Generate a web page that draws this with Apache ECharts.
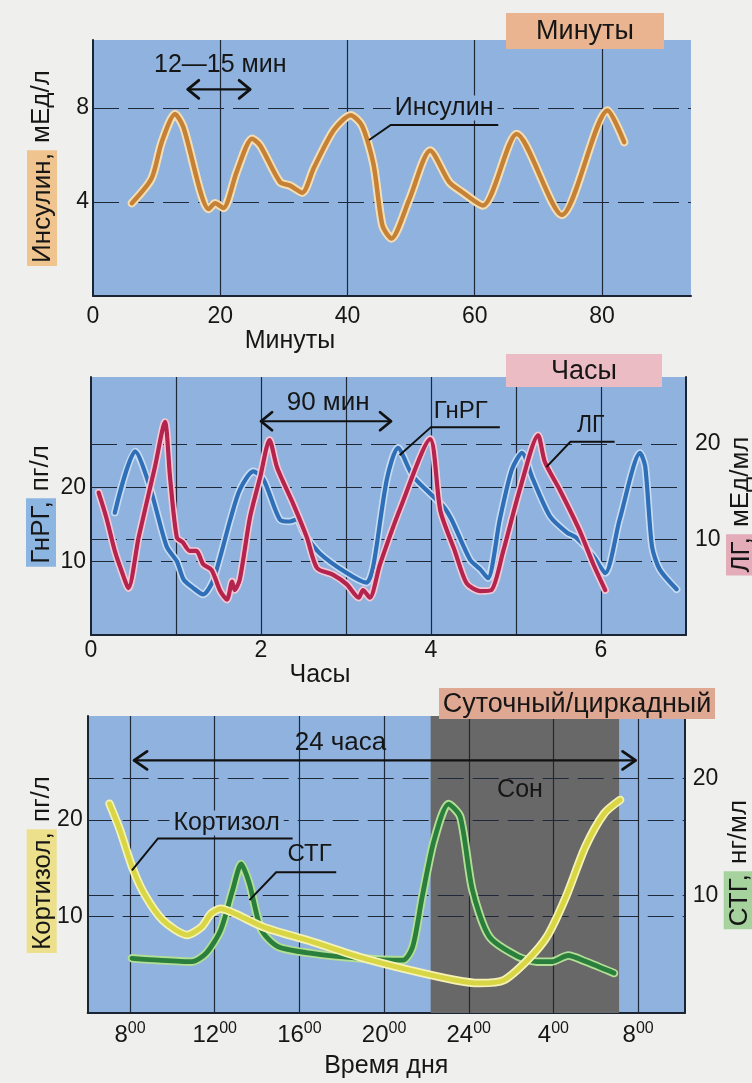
<!DOCTYPE html>
<html><head><meta charset="utf-8">
<script src="https://cdn.jsdelivr.net/npm/echarts@6/dist/echarts.min.js"></script>
<style>html,body{margin:0;padding:0;background:#efefed}#c{width:752px;height:1083px}</style>
</head><body><div id="c"></div>
<script>
// ---------- data ----------
const insulinMin = [6.1,9.2,10.8,12.9,14.2,18.2,19.2,20.5,22.6,25.0,26.3,29.4,31.0,32.9,34.7,37.8,40.5,42.3,44.1,45.5,46.9,49.7,53.0,56.0,57.9,61.3,66.6,73.7,80.9,83.5];
const insulinVal = [3.95,5.0,6.55,7.75,7.2,3.7,3.95,3.75,5.3,6.7,6.4,4.85,4.7,4.4,5.45,7.05,7.7,7.25,5.6,3.0,2.45,4.1,6.2,4.85,4.45,3.85,6.9,3.45,7.9,6.55];

const gnrhHour = [0.28,0.52,0.69,0.89,1.01,1.09,1.2,1.32,1.44,1.64,1.75,1.91,2.03,2.22,2.34,2.42,2.5,2.69,3.01,3.24,3.32,3.48,3.61,3.79,4.14,4.24,4.46,4.58,4.67,4.81,4.95,5.07,5.2,5.4,5.6,5.71,5.91,6.05,6.22,6.46,6.52,6.6,6.69,6.89];
const gnrhVal  = [16.6,24.9,20.2,12.0,10.0,7.5,6.4,5.5,7.5,15.7,19.7,22.2,21.1,15.7,15.4,15.7,13.9,11.1,8.4,7.1,9.3,21.1,25.4,21.5,17.5,15.7,10.2,8.9,7.7,15.7,22.4,24.7,21.1,16.1,13.9,13.2,10.7,8.4,15.7,24.7,22.9,12.0,8.9,6.2];

const lhHour = [0.09,0.18,0.28,0.36,0.44,0.56,0.75,0.87,0.93,1.01,1.08,1.16,1.24,1.32,1.42,1.52,1.6,1.66,1.69,1.75,1.87,1.99,2.1,2.19,2.38,2.54,2.66,2.85,3.01,3.15,3.2,3.28,3.4,3.64,3.99,4.11,4.28,4.42,4.58,4.71,4.85,5.05,5.26,5.34,5.52,5.75,5.91,6.05];
const lhVal  = [14.9,12.3,8.8,6.7,4.9,10.2,17.5,22.3,16.5,10.2,9.7,8.8,8.8,7.4,6.8,4.6,3.7,5.6,4.7,5.8,12.3,16.5,20.4,17.5,13.7,10.2,7.0,6.3,5.3,3.9,4.7,3.9,7.4,13.3,20.5,13.0,8.8,5.4,4.6,4.7,8.8,15.4,20.9,18.1,15.1,10.9,7.4,4.7];

const cortisolHour = [7.03,7.52,8.09,8.66,9.56,10.7,11.37,11.83,12.28,12.96,14.32,16.59,18.85,21.12,23.38,24.51,25.65,26.78,27.69,28.6,29.5,30.4,31.15];
const cortisolVal  = [21.7,19.0,15.2,12.4,9.6,8.1,8.9,10.3,10.8,10.3,8.9,7.4,5.8,4.5,3.4,3.1,3.4,5.5,7.9,12.1,17.2,20.7,22.1];

const sthHour = [8.09,9.34,10.92,11.6,12.28,12.85,13.25,13.64,14.21,15.0,16.59,18.85,20.89,21.35,21.8,22.36,23.04,23.6,24.17,24.97,26.33,27.23,27.91,28.7,29.5,30.86];
const sthVal  = [4.66,4.5,4.37,5.1,7.06,10.5,12.7,11.0,7.06,5.64,5.08,4.66,4.5,5.64,9.9,14.7,17.8,16.7,10.5,6.5,4.8,4.37,4.37,4.9,4.4,3.4];

const minuteLabels = [0,20,40,60,80];
const minuteLines = [20,40,60,80];
const insulinTicks = [4,8];
const hourLabels = [0,2,4,6];
const hourLines = [1,2,3,4,5,6];
const gnrhTicks = [10,20];
const lhTicks = [10,20];
const dayTicks = [8,12,16,20,24,28,32];
const dayTickLabels = ['8','12','16','20','24','4','8'];
const cortisolTicks = [10,20];
const sthTicks = [10,20];
const sleepSpan = [22.2,31.1];

// ---------- styling helpers ----------
const FONT = "'Liberation Sans', Arial, sans-serif";
const INK = '#161616';
const AX = '#1b2433';
const BLUE = '#8fb3de';
const GL = '#1e2838';

function zip(a,b){ return a.map((x,i)=>[x,b[i]]); }
function marks(v,h){
  return { silent:true, symbol:'none', z:1.5, animation:false, label:{show:false},
    lineStyle:{color:GL, width:1.2, type:[26,9]},
    data:[...v.map(x=>({xAxis:x, lineStyle:{type:'solid', color:GL, width:1.2}})), ...h.map(y=>({yAxis:y}))] };
}
function line(data,xi,yi,color,width,extra){
  return Object.assign({type:'line', data, xAxisIndex:xi, yAxisIndex:yi, symbol:'none', smooth:0.25,
    silent:true, animation:false, lineStyle:{color, width, cap:'round', join:'round'}}, extra||{});
}
const lbl = {color:INK, fontSize:23, fontFamily:FONT};
const axLine = {show:true, onZero:false, lineStyle:{color:AX, width:2}};
function xAx(gi,min,max,interval,fmt,name,gap,pad,margin,rich){
  const al = Object.assign({}, lbl, {margin, formatter:fmt, showMaxLabel:true});
  if (rich) al.rich = rich;
  return {type:'value', gridIndex:gi, min, max, interval, axisLine:axLine, axisTick:{show:false},
    splitLine:{show:false}, axisLabel:al, name, nameLocation:'middle', nameGap:gap,
    nameTextStyle:{color:INK, fontSize:25, fontFamily:FONT, padding:pad}};
}
function yAx(gi,pos,min,max,interval,ticks,hl,rest,hlColor,gap,margin){
  return {type:'value', gridIndex:gi, position:pos, min, max, interval, axisLine:axLine,
    axisTick:{show:false}, splitLine:{show:false},
    axisLabel:Object.assign({}, lbl, {margin, formatter:v=> ticks.includes(v) ? String(v) : ''}),
    name:'{hl|'+hl+'}'+rest, nameLocation:'middle', nameRotate:90, nameGap:gap, nameMoveOverlap:false,
    nameTextStyle:{color:INK, fontSize:26, fontFamily:FONT,
      rich:{hl:{backgroundColor:hlColor, fontSize:26, fontFamily:FONT, color:INK, padding:[3,3,1,3]}}}};
}

const chart = echarts.init(document.getElementById('c'));
const gridBase = {show:true, backgroundColor:BLUE, borderWidth:0, containLabel:false, outerBoundsMode:'none'};

const option = {
  backgroundColor:'#efefed',
  animation:false,
  grid:[
    Object.assign({left:93, top:40, width:598, height:256}, gridBase),
    Object.assign({left:91, top:377, width:595, height:258}, gridBase),
    Object.assign({left:87.7, top:716, width:597, height:297}, gridBase)
  ],
  xAxis:[
    xAx(0,0,94,20,v=>minuteLabels.includes(v)?String(v):'','Минуты',25,[0,204,0,0],9),
    xAx(1,0,7,2,v=>hourLabels.includes(v)?String(v):'','Часы',25,[0,137,0,0],4),
    xAx(2,6,34.2,2,v=>{const i=dayTicks.indexOf(v); return i<0?'':'{a|'+dayTickLabels[i]+'}{s|00}';},
      'Время дня',41,[0,0,0,0],8,
      {a:{fontSize:24, fontFamily:FONT, color:INK, lineHeight:28},
       s:{fontSize:16, fontFamily:FONT, color:INK, lineHeight:16, verticalAlign:'top'}})
  ],
  yAxis:[
    yAx(0,'left',0,10.9,4,insulinTicks,'Инсулин,',' мЕд/л','#efc48e',36,4),
    yAx(1,'left',0,35,10,gnrhTicks,'ГнРГ,',' пг/л','#8db5e2',35,5),
    yAx(1,'right',0,27,10,lhTicks,'ЛГ,',' мЕд/мл','#e4abb9',40,9),
    yAx(2,'left',0,30.8,10,cortisolTicks,'Кортизол,',' пг/л','#ece08c',31,5),
    yAx(2,'right',0,25.3,10,sthTicks,'СТГ,',' нг/мл','#a6d29e',39,8)
  ],
  series:[
    line(zip(insulinMin,insulinVal),0,0,'#f6deb2',8.5,{markLine:marks(minuteLines,insulinTicks)}),
    line(zip(insulinMin,insulinVal),0,0,'#c58236',4.5),
    line(zip(gnrhHour,gnrhVal),1,1,'#c7dbf2',7.5,{markLine:marks(hourLines,gnrhTicks)}),
    line(zip(gnrhHour,gnrhVal),1,1,'#2f6fb8',4.2),
    line(zip(lhHour,lhVal),1,2,'#f6c8d4',7.5,{markLine:marks([],lhTicks)}),
    line(zip(lhHour,lhVal),1,2,'#b3244f',4.2),
    line(zip(sthHour,sthVal),2,4,'#b3de96',8.5,{markLine:marks([],sthTicks),
      markArea:{silent:true, z:1, itemStyle:{color:'#686868'}, data:[[{xAxis:sleepSpan[0]},{xAxis:sleepSpan[1]}]]}}),
    line(zip(sthHour,sthVal),2,4,'#2a7f3c',4.8),
    line(zip(cortisolHour,cortisolVal),2,3,'#f5f2b4',8.5,{markLine:marks(dayTicks,cortisolTicks)}),
    line(zip(cortisolHour,cortisolVal),2,3,'#d9d646',5)
  ]
};
chart.setOption(option);

// ---------- annotations (positioned through the axes) ----------
const annotations = [
  {ax:[0,0], arrow:[[14.9,8.8],[24.7,8.8]], hx:11, hy:9},
  {ax:[0,0], text:'12—15 мин', at:[20.0,9.83], size:25},
  {ax:[0,0], text:'Инсулин', at:[55.2,8.0], size:25, bg:BLUE},
  {ax:[0,0], leader:[[43.4,6.64],[46.8,7.28],[63.7,7.28]]},
  {ax:[1,1], arrow:[[2.0,29.0],[3.53,29.0]], hx:11, hy:9},
  {ax:[1,1], text:'90 мин', at:[2.79,31.5], size:26},
  {ax:[1,1], text:'ГнРГ', at:[4.35,30.3], size:24},
  {ax:[1,1], leader:[[3.63,24.4],[4.0,28.2],[4.81,28.2]]},
  {ax:[1,1], text:'ЛГ', at:[5.88,28.4], size:23},
  {ax:[1,1], leader:[[5.36,22.8],[5.64,26.2],[6.16,26.2]]},
  {ax:[2,3], arrow:[[8.19,26.2],[31.88,26.2]], hx:13, hy:9},
  {ax:[2,3], text:'24 часа', at:[17.94,28.0], size:26},
  {ax:[2,3], text:'Сон', at:[26.42,23.1], size:25},
  {ax:[2,3], text:'Кортизол', at:[12.56,19.7], size:25, bg:BLUE},
  {ax:[2,3], leader:[[8.09,14.8],[9.32,18.1],[15.68,18.1]]},
  {ax:[2,3], text:'СТГ', at:[16.48,16.4], size:24},
  {ax:[2,3], leader:[[13.64,11.7],[14.9,14.6],[17.74,14.6]]}
];
function px(ax,p){ return chart.convertToPixel({xAxisIndex:ax[0], yAxisIndex:ax[1]}, p); }
const els = [];
annotations.forEach(a=>{
  if (a.arrow){
    const p1 = px(a.ax,a.arrow[0]), p2 = px(a.ax,a.arrow[1]);
    const st = {stroke:'#111', lineWidth:2.2, fill:null, lineCap:'round', lineJoin:'round'};
    els.push({type:'polyline', z:50, shape:{points:[p1,p2]}, style:st});
    els.push({type:'polyline', z:50, shape:{points:[[p1[0]+a.hx,p1[1]-a.hy],p1,[p1[0]+a.hx,p1[1]+a.hy]]}, style:Object.assign({},st,{lineWidth:2.8})});
    els.push({type:'polyline', z:50, shape:{points:[[p2[0]-a.hx,p2[1]-a.hy],p2,[p2[0]-a.hx,p2[1]+a.hy]]}, style:Object.assign({},st,{lineWidth:2.8})});
  } else if (a.leader){
    els.push({type:'polyline', z:50, shape:{points:a.leader.map(p=>px(a.ax,p))},
      style:{stroke:'#111', lineWidth:2, fill:null}});
  } else if (a.text){
    const p = px(a.ax,a.at);
    const s = {text:a.text, x:p[0], y:p[1], fill:INK, fontSize:a.size, fontFamily:FONT,
      align:'center', verticalAlign:'middle', textAlign:'center', textVerticalAlign:'middle'};
    if (a.bg){ s.backgroundColor = a.bg; s.padding = [0,4,0,4]; }
    els.push({type:'text', z:51, style:s});
  }
});
// header boxes
const boxes = [
  {text:'Минуты', x:506, y:13, w:158, h:36, color:'#e9b48f'},
  {text:'Часы', x:506, y:354, w:156, h:33, color:'#ecbcc5'},
  {text:'Суточный/циркадный', x:439, y:688, w:276, h:31, color:'#dfa893'}
];
boxes.forEach(b=>{
  els.push({type:'rect', z:52, shape:{x:b.x, y:b.y, width:b.w, height:b.h}, style:{fill:b.color}});
  els.push({type:'text', z:53, style:{text:b.text, x:b.x+b.w/2, y:b.y+b.h/2+1, fill:INK, fontSize:27, fontFamily:FONT,
    align:'center', verticalAlign:'middle', textAlign:'center', textVerticalAlign:'middle'}});
});
chart.setOption({graphic:els});
</script></body></html>
